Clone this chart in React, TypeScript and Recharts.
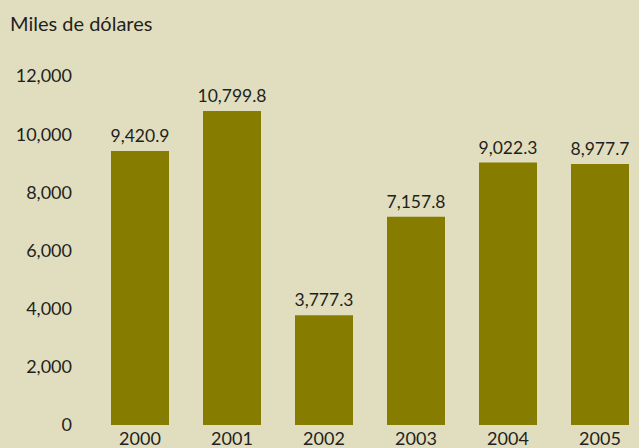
import React from "react";
import { BarChart, Bar, XAxis, YAxis, LabelList } from "recharts";

const years = ["2000", "2001", "2002", "2003", "2004", "2005"];
const values = [9420.9, 10799.8, 3777.3, 7157.8, 9022.3, 8977.7];
const yTicks = [0, 2000, 4000, 6000, 8000, 10000, 12000];

const data = years.map((y, i) => ({ year: y, value: values[i] }));

const FONT = "Lato, 'Open Sans', sans-serif";
const TEXT = "#231f20";

const fmtTick = (v: number) => v.toLocaleString("en-US");
const fmtVal = (v: number) =>
  v.toLocaleString("en-US", { minimumFractionDigits: 1, maximumFractionDigits: 1 });

export default function App() {
  return (
    <div
      style={{
        position: "fixed",
        left: 0,
        top: 0,
        width: 639,
        height: 448,
        overflow: "hidden",
        background: "#e1debf",
      }}
    >
      <div
        style={{
          position: "absolute",
          left: 10,
          top: 11,
          fontFamily: FONT,
          fontSize: 20,
          color: TEXT,
          lineHeight: "24px",
          whiteSpace: "nowrap",
        }}
      >
        Miles de dólares
      </div>
      <div style={{ position: "absolute", left: 0, top: 0 }}>
        <BarChart
          width={646}
          height={448}
          data={data}
          margin={{ top: 76, right: 0, bottom: 0, left: 0 }}
          barSize={58}
        >
          <XAxis
            dataKey="year"
            axisLine={false}
            tickLine={false}
            tickSize={0}
            tickMargin={7}
            height={23}
            interval={0}
            tick={{ fill: TEXT, fontFamily: FONT, fontSize: 18 }}
          />
          <YAxis
            domain={[0, 12000]}
            ticks={yTicks}
            axisLine={false}
            tickLine={false}
            tickSize={0}
            tickMargin={22}
            width={94}
            interval={0}
            tickFormatter={fmtTick}
            tick={{ fill: TEXT, fontFamily: FONT, fontSize: 18 }}
          />
          <Bar dataKey="value" fill="#857c00" isAnimationActive={false}>
            <LabelList
              dataKey="value"
              position="top"
              offset={9}
              formatter={(v: any) => fmtVal(Number(v))}
              style={{ fill: TEXT, fontFamily: FONT, fontSize: 17.5 }}
            />
          </Bar>
        </BarChart>
      </div>
    </div>
  );
}
